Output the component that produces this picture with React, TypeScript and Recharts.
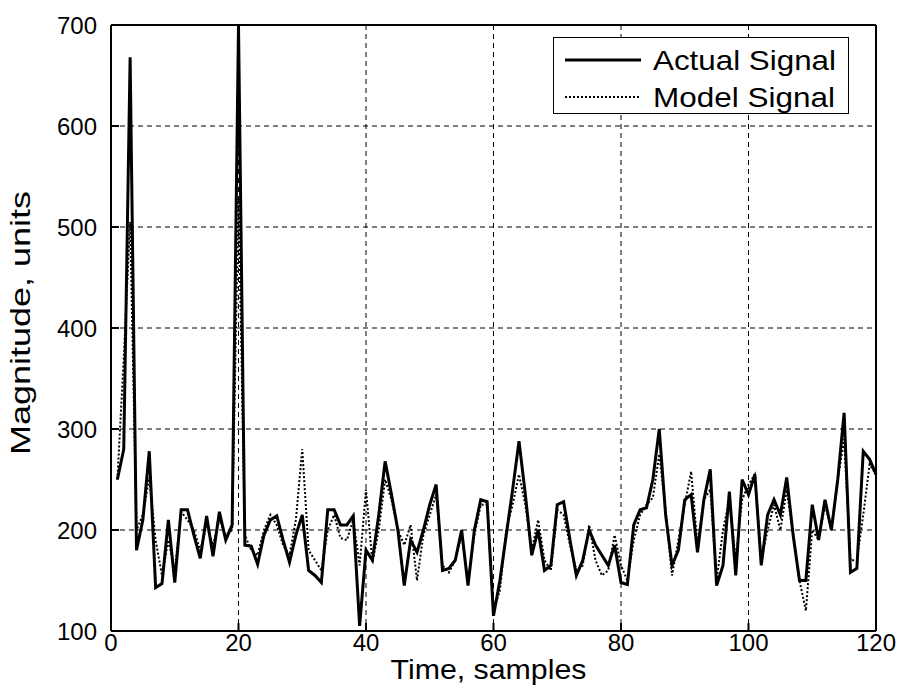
import {
  LineChart,
  Line,
  XAxis,
  YAxis,
  CartesianGrid,
  ReferenceLine,
} from 'recharts'

// sample index (x axis)
const timeSamples = [
  1, 2, 3, 4, 5, 6, 7, 8, 9, 10, 11, 12, 13, 14, 15, 16, 17, 18, 19, 20,
  21, 22, 23, 24, 25, 26, 27, 28, 29, 30, 31, 32, 33, 34, 35, 36, 37, 38, 39, 40,
  41, 42, 43, 44, 45, 46, 47, 48, 49, 50, 51, 52, 53, 54, 55, 56, 57, 58, 59, 60,
  61, 62, 63, 64, 65, 66, 67, 68, 69, 70, 71, 72, 73, 74, 75, 76, 77, 78, 79, 80,
  81, 82, 83, 84, 85, 86, 87, 88, 89, 90, 91, 92, 93, 94, 95, 96, 97, 98, 99, 100,
  101, 102, 103, 104, 105, 106, 107, 108, 109, 110, 111, 112, 113, 114, 115, 116, 117, 118, 119, 120,
]

const actualSignal = [
  250, 280, 668, 180, 210, 278, 143, 147, 210, 148, 220, 220, 195, 172, 214, 174, 218, 190, 205, 700,
  185, 184, 166, 195, 210, 214, 190, 168, 195, 215, 160, 155, 148, 220, 220, 205, 205, 214, 105, 180,
  170, 215, 268, 235, 200, 145, 190, 178, 200, 225, 245, 160, 162, 170, 200, 145, 200, 230, 228, 115,
  150, 195, 240, 288, 235, 175, 200, 160, 165, 225, 228, 190, 155, 170, 200, 185, 175, 165, 185, 148,
  146, 205, 220, 222, 250, 300, 215, 165, 180, 230, 235, 178, 230, 260, 145, 165, 238, 155, 250, 235,
  255, 165, 215, 230, 215, 252, 195, 150, 150, 225, 190, 230, 200, 250, 316, 158, 162, 278, 270, 255,
]

const modelSignal = [
  250, 370, 505, 200, 215, 252, 190, 155, 190, 160, 218, 210, 200, 180, 205, 185, 210, 195, 200, 530,
  195, 180, 175, 200, 215, 205, 185, 175, 210, 280, 180, 170, 160, 200, 215, 192, 190, 210, 165, 240,
  168, 200, 250, 230, 200, 185, 205, 150, 195, 215, 235, 165, 158, 170, 195, 150, 195, 225, 225, 120,
  140, 200, 225, 255, 225, 180, 210, 170, 160, 220, 215, 185, 160, 165, 205, 170, 155, 160, 195, 165,
  150, 190, 215, 225, 232, 275, 220, 155, 190, 225, 258, 185, 230, 240, 150, 200, 230, 170, 230, 245,
  255, 170, 200, 225, 200, 240, 195, 150, 120, 200, 190, 225, 200, 250, 290, 170, 170, 215, 265, 255,
]

const xTicks = [0, 20, 40, 60, 80, 100, 120]
const yTicks = [100, 200, 300, 400, 500, 600, 700]

const data = timeSamples.map((t, i) => ({
  t,
  actual: actualSignal[i],
  model: modelSignal[i],
}))

const FONT = '"Liberation Sans", Arial, sans-serif'
const tickStyle = { fill: '#000', fontSize: 24, fontFamily: FONT }

// the reference text is tall and narrow, so squeeze it with textLength
// eslint-disable-next-line @typescript-eslint/no-explicit-any
const XTitle = ({ viewBox }: any) => {
  const cx = viewBox.x + viewBox.width / 2 - 5
  return (
    <text
      x={cx}
      y={679}
      textAnchor="middle"
      fontSize={28}
      fontFamily={FONT}
      fill="#000"
      textLength={196}
      lengthAdjust="spacingAndGlyphs"
    >
      Time, samples
    </text>
  )
}

// eslint-disable-next-line @typescript-eslint/no-explicit-any
const YTitle = ({ viewBox }: any) => {
  const cy = viewBox.y + viewBox.height / 2 - 5
  return (
    <text
      x={30}
      y={cy}
      transform={`rotate(-90 30 ${cy})`}
      textAnchor="middle"
      fontSize={28}
      fontFamily={FONT}
      fill="#000"
      textLength={264}
      lengthAdjust="spacingAndGlyphs"
    >
      Magnitude, units
    </text>
  )
}

// legend box like the matlab one (overlay, recharts Legend eats plot space)
const LegendBox = () => (
  <div
    style={{
      position: 'absolute',
      left: 553,
      top: 37,
      width: 296,
      height: 77,
      border: '1px solid #000',
      background: '#fff',
      boxSizing: 'border-box',
    }}
  >
    <svg width={294} height={75} style={{ display: 'block' }}>
      <line x1={11} x2={87} y1={22} y2={22} stroke="#000" strokeWidth={3} />
      <text
        x={99}
        y={32}
        fontSize={28}
        fontFamily={FONT}
        fill="#000"
        textLength={183}
        lengthAdjust="spacingAndGlyphs"
      >
        Actual Signal
      </text>
      <line x1={11} x2={87} y1={59} y2={59} stroke="#000" strokeWidth={2} strokeDasharray="2 2" />
      <text
        x={99}
        y={69}
        fontSize={28}
        fontFamily={FONT}
        fill="#000"
        textLength={182}
        lengthAdjust="spacingAndGlyphs"
      >
        Model Signal
      </text>
    </svg>
  </div>
)

export default function App() {
  return (
    <div style={{ position: 'absolute', left: 0, top: 0, background: '#fff' }}>
      <LineChart
        width={901}
        height={691}
        data={data}
        margin={{ top: 25, right: 25, left: 0, bottom: 0 }}
      >
        <CartesianGrid stroke="#000" strokeDasharray="5 4" />
        <XAxis
          dataKey="t"
          type="number"
          domain={[0, 120]}
          ticks={xTicks}
          height={60}
          stroke="#000"
          strokeWidth={2}
          tickSize={-8}
          tickMargin={11}
          tick={tickStyle}
          label={<XTitle />}
        />
        <YAxis
          type="number"
          domain={[100, 700]}
          ticks={yTicks}
          width={111}
          allowDataOverflow
          stroke="#000"
          strokeWidth={2}
          tickSize={-8}
          tickMargin={22}
          tick={tickStyle}
          label={<YTitle />}
        />
        {/* top and right edges of the box */}
        <ReferenceLine x={120} stroke="#000" strokeWidth={2} strokeDasharray="0" />
        <ReferenceLine y={700} stroke="#000" strokeWidth={2} strokeDasharray="0" />
        <Line
          type="linear"
          dataKey="actual"
          stroke="#000"
          strokeWidth={3}
          dot={false}
          isAnimationActive={false}
        />
        <Line
          type="linear"
          dataKey="model"
          stroke="#000"
          strokeWidth={2}
          strokeDasharray="2 2"
          dot={false}
          isAnimationActive={false}
        />
      </LineChart>
      <LegendBox />
    </div>
  )
}
